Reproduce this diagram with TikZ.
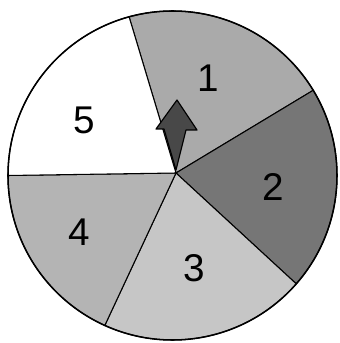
\documentclass[tikz,border=0pt]{standalone}
\usepackage{fontspec}
\setmainfont{Liberation Sans}
\usepackage{tikz}
\usetikzlibrary{positioning}
\definecolor{spinone}{RGB}{170,170,170}
\definecolor{spintwo}{RGB}{118,118,118}
\definecolor{spinthree}{RGB}{198,198,198}
\definecolor{spinfour}{RGB}{180,180,180}
\definecolor{pointergray}{RGB}{72,72,72}
\tikzset{
  digit/.style={font=\fontsize{33}{33}\selectfont, inner sep=0pt},
  sector/.style={draw=black, line width=0.9pt},
}

\begin{document}
\begin{tikzpicture}[scale=0.03]
  \useasboundingbox (-172.5,-167.5) rectangle (166.5,175.5);
  \coordinate (hub) at (3.5,2.5);
  % sectors of the spinner
  \foreach \a/\b/\c in {105.3/31.2/spinone, 31.2/-41.2/spintwo, -41.2/-114.3/spinthree, -114.3/-180/spinfour, 180/105.3/white}
    \filldraw[sector, fill=\c] (hub) -- (\a:164.5) arc[start angle=\a, end angle=\b, radius=164.5] -- cycle;
  \draw[line width=1.3pt] (0,0) circle (164.5);
  \node[digit] (one) at (35.5,97.5) {1};
  \node[digit] (two) at (100.5,-11.5) {2};
  \node[digit] (three) at (21.5,-92.5) {3};
  \node[digit] (four) at (-93.5,-56.5) {4};
  \node[digit] (five) at (-88.5,55.5) {5};
  % pointer
  \filldraw[fill=pointergray, draw=black, line width=1pt, line join=round]
    (3.5,5.5) -- (-8.5,46.5) -- (-16.5,46.5) -- (4.5,75.5) -- (24.5,45.5) -- (13.5,45.5) -- cycle;
\end{tikzpicture}
\end{document}
